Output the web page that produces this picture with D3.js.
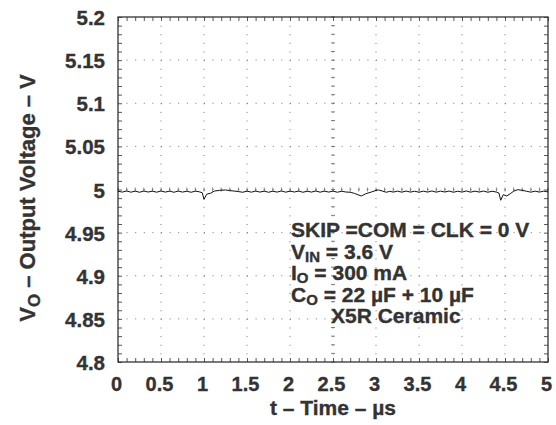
<!DOCTYPE html>
<html>
<head>
<script src="https://d3js.org/d3.v7.min.js"></script>
<style>
  body { margin: 0; background: #fff; }
  text { font-family: "Liberation Sans", Arial, sans-serif; font-weight: bold; fill: #333; stroke: #333; stroke-width: 0.35px; }
</style>
</head>
<body>
<svg width="556" height="425"></svg>
<script>
// axis ticks
const xTicks = [0, 0.5, 1, 1.5, 2, 2.5, 3, 3.5, 4, 4.5, 5];
const yTicks = [4.8, 4.85, 4.9, 4.95, 5, 5.05, 5.1, 5.15, 5.2];

// output voltage trace, [time us, volts]
const trace = [
  [0.00, 4.9980], [0.05, 4.9970], [0.10, 4.9983], [0.15, 4.9969], [0.20, 4.9981],
  [0.25, 4.9968], [0.30, 4.9982], [0.35, 4.9971], [0.40, 4.9980], [0.45, 4.9969],
  [0.50, 4.9983], [0.55, 4.9970], [0.60, 4.9981], [0.65, 4.9968], [0.70, 4.9982],
  [0.75, 4.9970], [0.80, 4.9980], [0.85, 4.9968], [0.90, 4.9981], [0.95, 4.9972],
  [0.98, 4.9962], [1.00, 4.9885], [1.03, 4.9945], [1.08, 4.9958], [1.12, 4.9982],
  [1.18, 4.9990], [1.25, 4.9995], [1.30, 4.9987], [1.35, 4.9982], [1.40, 4.9976],
  [1.45, 4.9968], [1.50, 4.9981], [1.55, 4.9969], [1.60, 4.9982], [1.65, 4.9970],
  [1.70, 4.9981], [1.75, 4.9968], [1.80, 4.9980], [1.85, 4.9970], [1.90, 4.9983],
  [1.95, 4.9969], [2.00, 4.9981], [2.05, 4.9971], [2.10, 4.9982], [2.15, 4.9968],
  [2.20, 4.9980], [2.25, 4.9970], [2.30, 4.9983], [2.35, 4.9969], [2.40, 4.9981],
  [2.45, 4.9970], [2.50, 4.9982], [2.55, 4.9968], [2.60, 4.9980], [2.65, 4.9971],
  [2.70, 4.9968], [2.75, 4.9955], [2.80, 4.9935], [2.83, 4.9925], [2.88, 4.9950],
  [2.95, 4.9972], [3.00, 4.9990], [3.03, 4.9995], [3.08, 4.9980], [3.12, 4.9968],
  [3.16, 4.9979], [3.20, 4.9970], [3.25, 4.9981], [3.30, 4.9969], [3.35, 4.9982],
  [3.40, 4.9970], [3.45, 4.9980], [3.50, 4.9968], [3.55, 4.9981], [3.60, 4.9970],
  [3.65, 4.9983], [3.70, 4.9969], [3.75, 4.9981], [3.80, 4.9971], [3.85, 4.9982],
  [3.90, 4.9968], [3.95, 4.9980], [4.00, 4.9970], [4.05, 4.9983], [4.10, 4.9969],
  [4.15, 4.9981], [4.20, 4.9970], [4.25, 4.9982], [4.30, 4.9968], [4.35, 4.9980],
  [4.40, 4.9970], [4.43, 4.9958], [4.45, 4.9875], [4.48, 4.9940], [4.52, 4.9925],
  [4.56, 4.9950], [4.60, 4.9980], [4.65, 4.9998], [4.70, 4.9990], [4.75, 4.9980],
  [4.80, 4.9969], [4.85, 4.9981], [4.90, 4.9970], [4.95, 4.9981], [5.00, 4.9972]
];

// test conditions, each line as [text, isSubscript] pieces
const notes = [
  [["SKIP =COM = CLK = 0 V", false]],
  [["V", false], ["IN", true], [" = 3.6 V", false]],
  [["I", false], ["O", true], [" = 300 mA", false]],
  [["C", false], ["O", true], [" = 22 \u00b5F + 10 \u00b5F", false]],
  [["X5R Ceramic", false]]
];
const noteIndent = [0, 0, 0, 0, 40];

const margin = {top: 17, right: 8, bottom: 63, left: 118};
const W = 556, H = 425;
const w = W - margin.left - margin.right, h = H - margin.top - margin.bottom;

const svg = d3.select("svg");
const g = svg.append("g").attr("transform", `translate(${margin.left},${margin.top})`);

const x = d3.scaleLinear().domain([0, 5]).range([0, w]);
const y = d3.scaleLinear().domain([4.8, 5.2]).range([h, 0]);

const minorX = d3.range(0, 50.5).map(i => i / 10);
const minorY = d3.range(0, 40.5).map(i => 4.8 + i / 100);

// dotted grid
const dotX = w / 50, dotY = h / 40;
g.selectAll(".gx").data(xTicks.slice(1, -1)).enter().append("line")
  .attr("x1", d => x(d)).attr("x2", d => x(d)).attr("y1", 0).attr("y2", h)
  .attr("stroke", "#777").attr("stroke-width", 1)
  .attr("stroke-dasharray", `1,${(dotY - 1).toFixed(3)}`);
g.selectAll(".gy").data(yTicks.slice(1, -1)).enter().append("line")
  .attr("x1", 0).attr("x2", w).attr("y1", d => y(d)).attr("y2", d => y(d))
  .attr("stroke", "#777").attr("stroke-width", 1)
  .attr("stroke-dasharray", `1,${(dotX - 1).toFixed(3)}`);

// minor ticks on the centre crosshair
g.selectAll(".cx").data(minorX).enter().append("line")
  .attr("x1", d => x(d)).attr("x2", d => x(d))
  .attr("y1", y(5) - 2).attr("y2", y(5) + 2)
  .attr("stroke", "#666").attr("stroke-width", 0.8);
g.selectAll(".cy").data(minorY).enter().append("line")
  .attr("y1", d => y(d)).attr("y2", d => y(d))
  .attr("x1", x(2.5) - 2).attr("x2", x(2.5) + 2)
  .attr("stroke", "#666").attr("stroke-width", 0.8);

// minor ticks on the frame
const tick = (axis, tr) => g.append("g").attr("transform", tr)
  .call(axis.tickSize(4).tickFormat(""))
  .call(s => s.select(".domain").remove())
  .call(s => s.selectAll("line").attr("stroke", "#444").attr("stroke-width", 0.9));
tick(d3.axisTop(x).tickValues(minorX), `translate(0,${h})`);
tick(d3.axisBottom(x).tickValues(minorX), "translate(0,0)");
tick(d3.axisRight(y).tickValues(minorY), "translate(0,0)");
tick(d3.axisLeft(y).tickValues(minorY), `translate(${w},0)`);

// frame
g.append("rect").attr("width", w).attr("height", h)
  .attr("fill", "none").attr("stroke", "#333").attr("stroke-width", 1.3);

// trace
g.append("path").datum(trace)
  .attr("fill", "none").attr("stroke", "#111").attr("stroke-width", 1)
  .attr("d", d3.line().x(d => x(d[0])).y(d => y(d[1])));

// tick labels
const xa = g.append("g").attr("transform", `translate(-2,${h})`)
  .call(d3.axisBottom(x).tickValues(xTicks).tickSize(0).tickPadding(15).tickFormat(d3.format("~g")));
xa.select(".domain").remove();
xa.selectAll("text").attr("font-size", 20).attr("font-family", null).attr("fill", "#333");

const ya = g.append("g").attr("transform", "translate(0,1)")
  .call(d3.axisLeft(y).tickValues(yTicks).tickSize(0).tickPadding(13).tickFormat(d3.format("~g")));
ya.select(".domain").remove();
ya.selectAll("text").attr("font-size", 20.5).attr("font-family", null).attr("fill", "#333");

// axis titles
svg.append("text").attr("x", margin.left + w / 2).attr("y", 415)
  .attr("text-anchor", "middle").attr("font-size", 21)
  .text("t \u2013 Time \u2013 \u00b5s");

const yt = svg.append("text").attr("transform", "translate(35,198) rotate(-90)")
  .attr("text-anchor", "middle").attr("font-size", 22);
yt.append("tspan").text("V");
yt.append("tspan").attr("font-size", 17).attr("dy", 5).text("O");
yt.append("tspan").attr("dy", -5).text(" \u2013 Output Voltage \u2013 V");

// conditions block
notes.forEach((line, i) => {
  const t = g.append("text").attr("x", 173 + noteIndent[i]).attr("y", 237 + i * 21.5 - margin.top)
    .attr("font-size", 21);
  let shifted = false;
  line.forEach(([s, sub]) => {
    const sp = t.append("tspan").text(s);
    if (sub && !shifted) { sp.attr("dy", 3).attr("font-size", 15); shifted = true; }
    else if (!sub && shifted) { sp.attr("dy", -3); shifted = false; }
  });
});
</script>
</body>
</html>
